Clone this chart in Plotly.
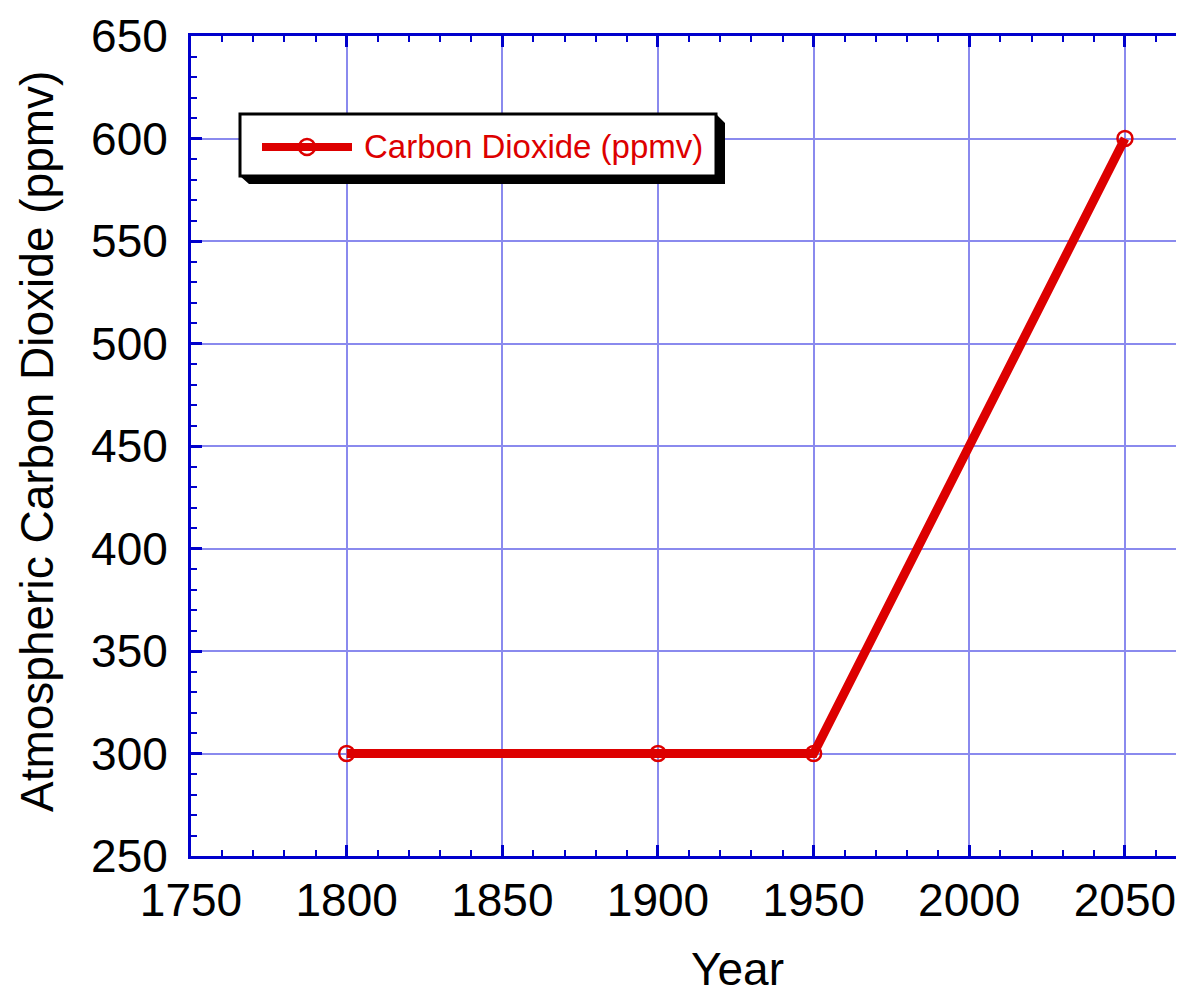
import plotly.graph_objects as go

years = [1800, 1900, 1950, 2050]
co2 = [300, 300, 300, 600]
series_name = "Carbon Dioxide (ppmv)"
x_title = "Year"
y_title = "Atmospheric Carbon Dioxide (ppmv)"

AXIS = "#0000cc"
GRID = "#8a8aee"
RED = "#dd0000"
FONT = "Liberation Sans, Arial, sans-serif"

# the page body adds 8px around the figure, so the figure is kept small
# enough to fit in the window without scrolling
W, H = 1168, 987
# plot area inside the figure
L, R, T, B = 183, 1168, 28, 848


def px(x):
    # screen pixel -> paper fraction
    return (x - 8 - L) / (R - L)


def py(y):
    return (B - (y - 8)) / (B - T)


fig = go.Figure(
    go.Scatter(
        x=years,
        y=co2,
        name=series_name,
        mode="lines+markers",
        line=dict(color=RED, width=9),
        marker=dict(symbol="circle-open", size=15, color=RED, line=dict(width=2.5)),
        showlegend=False,
    )
)

fig.update_xaxes(
    range=[1750, 2066.4],
    tickvals=[1750, 1800, 1850, 1900, 1950, 2000, 2050],
    showline=True, linecolor=AXIS, linewidth=3, mirror="ticks",
    ticks="inside", ticklen=11, tickwidth=3, tickcolor=AXIS,
    minor=dict(dtick=10, ticks="inside", ticklen=6, tickwidth=2, tickcolor=AXIS, showgrid=False),
    showgrid=True, gridcolor=GRID, gridwidth=2,
    zeroline=False, automargin=False,
    tickfont=dict(size=46, color="black", family=FONT),
    ticklabelstandoff=2, ticklabeloverflow="allow",
)
fig.update_yaxes(
    range=[250, 650],
    tickvals=[250, 300, 350, 400, 450, 500, 550, 600, 650],
    showline=True, linecolor=AXIS, linewidth=3,
    ticks="inside", ticklen=11, tickwidth=3, tickcolor=AXIS,
    minor=dict(dtick=10, ticks="inside", ticklen=6, tickwidth=2, tickcolor=AXIS, showgrid=False),
    showgrid=True, gridcolor=GRID, gridwidth=2,
    zeroline=False, automargin=False,
    tickfont=dict(size=46, color="black", family=FONT),
    ticklabelstandoff=11,
)

# legend: drop shadow, box, symbol and label
shadow = [(240, 176), (716, 176), (716, 114), (725, 123), (725, 184), (249, 184)]
path = "M " + " L ".join(f"{px(a):.5f},{py(b):.5f}" for a, b in shadow) + " Z"
fig.add_shape(type="path", xref="paper", yref="paper", path=path,
              fillcolor="black", line=dict(width=0), layer="above")
fig.add_shape(type="rect", xref="paper", yref="paper",
              x0=px(240), x1=px(716), y0=py(176), y1=py(114),
              fillcolor="white", line=dict(color="black", width=3), layer="above")
fig.add_shape(type="line", xref="paper", yref="paper",
              x0=px(262), x1=px(352), y0=py(147), y1=py(147),
              line=dict(color=RED, width=8), layer="above")
fig.add_shape(type="circle", xref="paper", yref="paper",
              x0=px(299), x1=px(315), y0=py(139), y1=py(155),
              line=dict(color=RED, width=2.5), layer="above")
fig.add_annotation(text=series_name, xref="paper", yref="paper",
                   x=px(362), y=py(146), xanchor="left", yanchor="middle",
                   showarrow=False, font=dict(size=33, color=RED, family=FONT))

# axis titles
fig.add_annotation(
    text=x_title, xref="paper", yref="paper", x=px(737), y=py(941),
    xanchor="center", yanchor="top", showarrow=False,
    font=dict(size=46, color="black", family=FONT),
)
fig.add_annotation(
    text=y_title, xref="paper", yref="paper", x=px(37), y=py(442),
    xanchor="center", yanchor="middle", textangle=-90, showarrow=False,
    font=dict(size=46, color="black", family=FONT),
)

fig.update_layout(
    width=W, height=H,
    margin=dict(l=L, r=W - R, t=T, b=H - B),
    plot_bgcolor="white", paper_bgcolor="white",
    showlegend=False,
)

fig.write_html("out.html")
